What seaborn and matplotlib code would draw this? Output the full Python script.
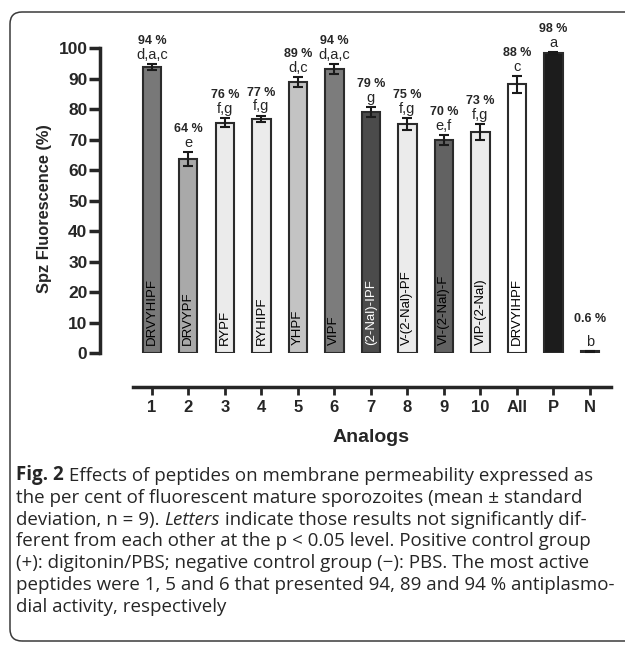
import matplotlib
matplotlib.use("Agg")
import matplotlib.pyplot as plt
import pandas as pd
import seaborn as sns
from matplotlib.patches import FancyBboxPatch

# Data
analogs = ["1", "2", "3", "4", "5", "6", "7", "8", "9", "10", "All", "P", "N"]
sequences = ["DRVYHIPF", "DRVYPF", "RYPF", "RYHIPF", "YHPF", "VIPF", "(2-Nal)-IPF",
             "V-(2-Nal)-PF", "VI-(2-Nal)-F", "VIP-(2-Nal)", "DRVYIHPF", "", ""]
fluorescence = [93.9, 63.7, 75.6, 76.8, 88.8, 93.2, 79.1, 75.1, 69.9, 72.5, 88.1, 98.4, 0.6]
std_dev = [1.0, 2.3, 1.5, 1.1, 1.7, 1.6, 1.7, 2.1, 1.7, 2.6, 2.9, 0.3, 0.2]
pct_labels = ["94 %", "64 %", "76 %", "77 %", "89 %", "94 %", "79 %", "75 %", "70 %",
              "73 %", "88 %", "98 %", "0.6 %"]
letters = ["d,a,c", "e", "f,g", "f,g", "d,c", "d,a,c", "g", "f,g", "e,f", "f,g", "c", "a", "b"]
bar_colors = ["#787878", "#a9a9a9", "#ebebeb", "#ebebeb", "#c3c3c3", "#7c7c7c", "#4b4b4b",
              "#ebebeb", "#626262", "#ebebeb", "#ffffff", "#1c1c1c", "#1c1c1c"]
text_colors = ["black"] * 6 + ["white"] + ["black"] * 6

caption = [
    "the per cent of fluorescent mature sporozoites (mean \u00b1 standard",
    None,
    "ferent from each other at the p < 0.05 level. Positive control group",
    "(+): digitonin/PBS; negative control group (\u2212): PBS. The most active",
    "peptides were 1, 5 and 6 that presented 94, 89 and 94 % antiplasmo-",
    "dial activity, respectively",
]

df = pd.DataFrame({"analog": analogs, "value": fluorescence})

sns.set_style("ticks")
plt.rcParams["font.family"] = ["Liberation Sans", "DejaVu Sans"]

fig = plt.figure(figsize=(6.25, 6.45), dpi=100)
ax = fig.add_axes([0.16, 0.4527, 0.819, 0.501])

sns.barplot(data=df, x="analog", y="value", hue="analog", palette=bar_colors,
            legend=False, width=0.5, saturation=1, errorbar=None,
            edgecolor="#2b2b2b", linewidth=1.5, ax=ax)
ax.errorbar(range(len(analogs)), fluorescence, yerr=std_dev, fmt="none",
            ecolor="#1a1a1a", elinewidth=1.5, capsize=3.5, capthick=1.5)

for i, (v, e) in enumerate(zip(fluorescence, std_dev)):
    top = v + e
    ax.annotate(letters[i], (i, top), xytext=(0, 6.5), textcoords="offset points",
                ha="center", va="center", fontsize=10.5, annotation_clip=False)
    off = 22.5 if analogs[i] == "N" else 16.5
    ax.annotate(pct_labels[i], (i, top), xytext=(0, off), textcoords="offset points",
                ha="center", va="center", fontsize=9, fontweight="bold",
                annotation_clip=False)
    if sequences[i]:
        ax.text(i, 2.6, sequences[i], rotation=90, ha="center", va="bottom",
                fontsize=9.5, color=text_colors[i])

ax.set_ylim(0, 106)
ax.set_xlim(-1.42, 12.6)
ax.set_yticks(range(0, 101, 10))
sns.despine(ax=ax)
ax.spines["left"].set_bounds(0, 100)
ax.spines["left"].set_linewidth(2.5)
ax.spines["bottom"].set_position(("outward", 24.5))
ax.spines["bottom"].set_bounds(-0.52, 12.58)
ax.spines["bottom"].set_linewidth(2.5)
ax.tick_params(axis="y", length=8, width=2.5, pad=1, labelsize=12.5)
ax.tick_params(axis="x", length=6, width=2, pad=3, labelsize=12)
for lab in ax.get_xticklabels() + ax.get_yticklabels():
    lab.set_fontweight("bold")

ax.set_ylabel("Spz Fluorescence (%)", fontsize=11.8, fontweight="bold")
ax.yaxis.set_label_coords(-0.094, 0.446)
ax.set_xlabel("Analogs", fontsize=14, fontweight="bold")
ax.xaxis.set_label_coords(0.529, -0.235)

# rounded frame around figure + caption
fig.patches.append(FancyBboxPatch((0.10, 0.04), 7.0, 6.29,
                                  boxstyle="round,pad=0,rounding_size=0.12",
                                  transform=fig.dpi_scale_trans, fill=False,
                                  edgecolor="#3a3a3a", linewidth=1.1))

# caption, size fitted so the second line spans the same width as the original
cap_font = ["Open Sans", "DejaVu Sans"]
renderer = fig.canvas.get_renderer()
probe = fig.text(0, 0, caption[0], fontsize=10, family=cap_font)
cap_size = 10 * 566 / probe.get_window_extent(renderer).width
probe.remove()

x0 = 16 / 625
line_gap = 21.8


def ypos(k):
    return 1 - (485 + k * line_gap) / 645


t = fig.text(x0, ypos(0), "Fig. 2", fontweight="bold", fontsize=cap_size,
             family=cap_font, va="bottom")
plt.annotate(" Effects of peptides on membrane permeability expressed as",
             xy=(1, 0), xycoords=t, va="bottom", fontsize=cap_size, family=cap_font)
t3 = fig.text(x0, ypos(2), "deviation, n = 9). ", fontsize=cap_size,
              family=cap_font, va="bottom")
t3b = plt.annotate("Letters", xy=(1, 0), xycoords=t3, va="bottom", fontsize=cap_size,
                   family=cap_font, style="italic")
plt.annotate(" indicate those results not significantly dif-", xy=(1, 0),
             xycoords=t3b, va="bottom", fontsize=cap_size, family=cap_font)
for k, line in enumerate(caption, start=1):
    if line is None:
        continue
    fig.text(x0, ypos(k), line, fontsize=cap_size, family=cap_font, va="bottom")

fig.savefig("out.png", dpi=100)
